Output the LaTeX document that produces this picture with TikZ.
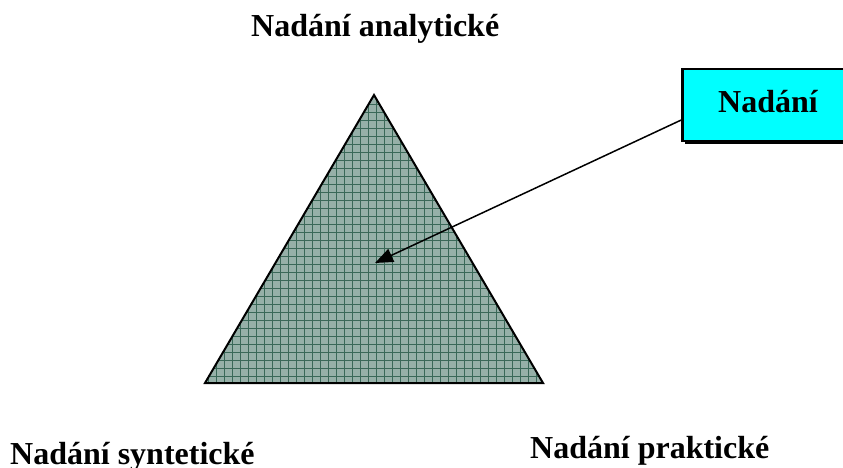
\documentclass[tikz,border=0pt]{standalone}
\usepackage{fontspec}
\setmainfont{Liberation Serif}
\usetikzlibrary{arrows.meta,shadows}
\definecolor{trifill}{RGB}{150,176,168}
\definecolor{trigrid}{RGB}{58,104,88}
\definecolor{boxcyan}{RGB}{0,255,255}
\begin{document}
\begin{tikzpicture}[x=1pt,y=-1pt,
  label/.style={font=\fontsize{32}{38}\selectfont\bfseries,inner sep=0pt},
  keybox/.style={draw,line width=2.5pt,fill=boxcyan,minimum width=171pt,minimum height=72pt,
    drop shadow={shadow xshift=2pt,shadow yshift=-3pt,fill=black,opacity=1}},
  pointer/.style={line width=1.5pt,-{Triangle[length=18pt,width=14pt]}}]
\clip (0,0) rectangle (843,468);

\coordinate (top) at (374,95);
\coordinate (left) at (205,383);
\coordinate (right) at (543,383);
\coordinate (tip) at (375,263);
\fill[trifill] (top) -- (left) -- (right) -- cycle;
\begin{scope}
\clip (top) -- (left) -- (right) -- cycle;
\draw[trigrid,line width=0.7pt,step=8pt] (200,90) grid (550,390);
\end{scope}
\draw[line width=2pt,line join=miter] (top) -- (left) -- (right) -- cycle;

\node[label,anchor=base west] (analytic) at (251,37) {Nadání analytické};
\node[label,anchor=base west] (synthetic) at (10,464) {Nadání syntetické};
\node[label,anchor=base west] (practical) at (530,458) {Nadání praktické};

\node[keybox] (box) at (768,105) {};
\node[label,anchor=base] (boxtext) at (768,113) {Nadání};
\draw[pointer] ([yshift=-15pt]box.west) -- (tip);
\end{tikzpicture}
\end{document}
